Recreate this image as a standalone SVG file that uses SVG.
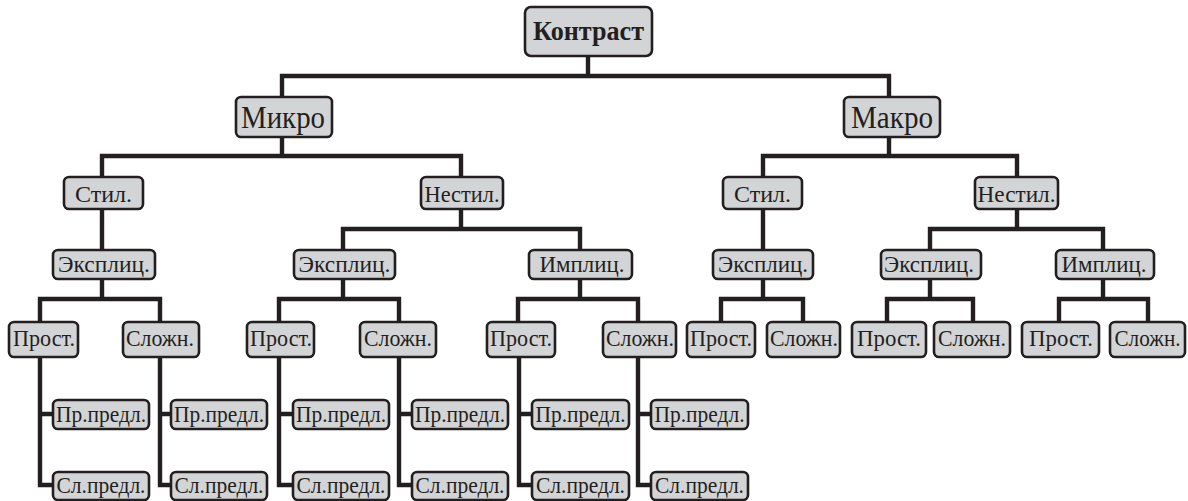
<svg xmlns="http://www.w3.org/2000/svg" width="1188" height="501" viewBox="0 0 1188 501">
<style>
.n rect{fill:#d3d4d6;stroke:#231f20;stroke-width:2.6}
.n text{font-family:"Liberation Serif",serif;fill:#231f20;text-anchor:middle}
.l1 text{font-size:31px}
.l2 text{font-size:24px}
.l5 text{font-size:24px}
#conn path{fill:none;stroke:#231f20;stroke-width:4.4;stroke-linejoin:miter;stroke-linecap:square}
</style>
<rect width="1188" height="501" fill="#fff"/>
<g id="conn">
<path d="M282,97 V76 H889 V97 M588,56 V76"/>
<path d="M102,177 V156 H461 V177 M282,137 V156"/>
<path d="M763,177 V156 H1017 V177 M889,137 V156"/>
<path d="M102,209 V250 M763,209 V250"/>
<path d="M343,250 V229 H580 V250 M461,209 V229"/>
<path d="M930,250 V229 H1103 V250 M1017,209 V229"/>
<path d="M40,322 V299 H160 V322 M102,279 V299"/>
<path d="M279,322 V299 H399 V322 M343,279 V299"/>
<path d="M518,322 V299 H638 V322 M580,279 V299"/>
<path d="M721,322 V299 H803 V322 M763,279 V299"/>
<path d="M887,322 V299 H973 V322 M930,279 V299"/>
<path d="M1059,322 V299 H1148 V322 M1103,279 V299"/>
<path d="M40,357 V485 H53 M40,414 H53"/>
<path d="M160,357 V485 H171 M160,414 H171"/>
<path d="M279,357 V485 H293 M279,414 H293"/>
<path d="M399,357 V485 H412 M399,414 H412"/>
<path d="M519,357 V485 H532 M519,414 H532"/>
<path d="M638,357 V485 H651 M638,414 H651"/>
</g>
<g id="root" class="n"><rect x="525" y="7" width="127" height="49" rx="6"/><text x="588.5" y="40" font-size="27" font-weight="bold" textLength="111" lengthAdjust="spacingAndGlyphs">Контраст</text></g>
<g id="micro" class="n l1"><rect x="236" y="97" width="96" height="40" rx="5"/><text x="283" y="128" textLength="84" lengthAdjust="spacingAndGlyphs">Микро</text></g>
<g id="macro" class="n l1"><rect x="844" y="97" width="96" height="40" rx="5"/><text x="892" y="128" textLength="82" lengthAdjust="spacingAndGlyphs">Макро</text></g>
<g id="mi-stil" class="n l2"><rect x="64" y="177" width="79" height="32" rx="5"/><text x="103.5" y="202" textLength="57" lengthAdjust="spacingAndGlyphs">Стил.</text></g>
<g id="mi-nestil" class="n l2"><rect x="421" y="177" width="82" height="32" rx="5"/><text x="462" y="202" textLength="75" lengthAdjust="spacingAndGlyphs">Нестил.</text></g>
<g id="ma-stil" class="n l2"><rect x="723" y="177" width="79" height="32" rx="5"/><text x="762.5" y="202" textLength="57" lengthAdjust="spacingAndGlyphs">Стил.</text></g>
<g id="ma-nestil" class="n l2"><rect x="975" y="177" width="83" height="32" rx="5"/><text x="1016.5" y="202" textLength="78" lengthAdjust="spacingAndGlyphs">Нестил.</text></g>
<g id="mi-s-expl" class="n l2"><rect x="53" y="250" width="102" height="29" rx="5"/><text x="104" y="272" textLength="92" lengthAdjust="spacingAndGlyphs">Эксплиц.</text></g>
<g id="mi-n-expl" class="n l2"><rect x="294" y="250" width="101" height="29" rx="5"/><text x="344.5" y="272" textLength="92" lengthAdjust="spacingAndGlyphs">Эксплиц.</text></g>
<g id="mi-n-impl" class="n l2"><rect x="529" y="250" width="103" height="29" rx="5"/><text x="582" y="272" textLength="85" lengthAdjust="spacingAndGlyphs">Имплиц.</text></g>
<g id="ma-s-expl" class="n l2"><rect x="713" y="250" width="100" height="29" rx="5"/><text x="763" y="272" textLength="90" lengthAdjust="spacingAndGlyphs">Эксплиц.</text></g>
<g id="ma-n-expl" class="n l2"><rect x="881" y="250" width="100" height="29" rx="5"/><text x="929" y="272" textLength="90" lengthAdjust="spacingAndGlyphs">Эксплиц.</text></g>
<g id="ma-n-impl" class="n l2"><rect x="1056" y="250" width="98" height="29" rx="5"/><text x="1104" y="272" textLength="85" lengthAdjust="spacingAndGlyphs">Имплиц.</text></g>
<g id="p1" class="n l5"><rect x="9" y="322" width="69" height="35" rx="5"/><text x="44" y="346" textLength="62" lengthAdjust="spacingAndGlyphs">Прост.</text></g>
<g id="c1" class="n l5"><rect x="123" y="322" width="76" height="35" rx="5"/><text x="160" y="346" textLength="68" lengthAdjust="spacingAndGlyphs">Сложн.</text></g>
<g id="p2" class="n l5"><rect x="247" y="322" width="67" height="35" rx="5"/><text x="281" y="346" textLength="62" lengthAdjust="spacingAndGlyphs">Прост.</text></g>
<g id="c2" class="n l5"><rect x="360" y="322" width="76" height="35" rx="5"/><text x="398" y="346" textLength="68" lengthAdjust="spacingAndGlyphs">Сложн.</text></g>
<g id="p3" class="n l5"><rect x="487" y="322" width="68" height="35" rx="5"/><text x="521" y="346" textLength="62" lengthAdjust="spacingAndGlyphs">Прост.</text></g>
<g id="c3" class="n l5"><rect x="603" y="322" width="73" height="35" rx="5"/><text x="640" y="346" textLength="68" lengthAdjust="spacingAndGlyphs">Сложн.</text></g>
<g id="p4" class="n l5"><rect x="687" y="322" width="68" height="35" rx="5"/><text x="721" y="346" textLength="62" lengthAdjust="spacingAndGlyphs">Прост.</text></g>
<g id="c4" class="n l5"><rect x="767" y="322" width="73" height="35" rx="5"/><text x="804" y="346" textLength="68" lengthAdjust="spacingAndGlyphs">Сложн.</text></g>
<g id="p5" class="n l5"><rect x="852" y="322" width="74" height="35" rx="5"/><text x="889" y="346" textLength="64" lengthAdjust="spacingAndGlyphs">Прост.</text></g>
<g id="c5" class="n l5"><rect x="934" y="322" width="76" height="35" rx="5"/><text x="972" y="346" textLength="68" lengthAdjust="spacingAndGlyphs">Сложн.</text></g>
<g id="p6" class="n l5"><rect x="1022" y="322" width="77" height="35" rx="5"/><text x="1061" y="346" textLength="64" lengthAdjust="spacingAndGlyphs">Прост.</text></g>
<g id="c6" class="n l5"><rect x="1110" y="322" width="75" height="35" rx="5"/><text x="1147.5" y="346" textLength="66" lengthAdjust="spacingAndGlyphs">Сложн.</text></g>
<g id="pp1" class="n l5"><rect x="53" y="400" width="96" height="29" rx="5"/><text x="101" y="422" textLength="90" lengthAdjust="spacingAndGlyphs">Пр.предл.</text></g>
<g id="sp1" class="n l5"><rect x="53" y="472" width="96" height="28" rx="5"/><text x="101" y="493" textLength="89" lengthAdjust="spacingAndGlyphs">Сл.предл.</text></g>
<g id="pp2" class="n l5"><rect x="171" y="400" width="96" height="29" rx="5"/><text x="219" y="422" textLength="90" lengthAdjust="spacingAndGlyphs">Пр.предл.</text></g>
<g id="sp2" class="n l5"><rect x="171" y="472" width="96" height="28" rx="5"/><text x="219" y="493" textLength="89" lengthAdjust="spacingAndGlyphs">Сл.предл.</text></g>
<g id="pp3" class="n l5"><rect x="293" y="400" width="96" height="29" rx="5"/><text x="341" y="422" textLength="90" lengthAdjust="spacingAndGlyphs">Пр.предл.</text></g>
<g id="sp3" class="n l5"><rect x="293" y="472" width="96" height="28" rx="5"/><text x="341" y="493" textLength="89" lengthAdjust="spacingAndGlyphs">Сл.предл.</text></g>
<g id="pp4" class="n l5"><rect x="412" y="400" width="96" height="29" rx="5"/><text x="460" y="422" textLength="90" lengthAdjust="spacingAndGlyphs">Пр.предл.</text></g>
<g id="sp4" class="n l5"><rect x="412" y="472" width="96" height="28" rx="5"/><text x="460" y="493" textLength="89" lengthAdjust="spacingAndGlyphs">Сл.предл.</text></g>
<g id="pp5" class="n l5"><rect x="532" y="400" width="97" height="29" rx="5"/><text x="580.5" y="422" textLength="90" lengthAdjust="spacingAndGlyphs">Пр.предл.</text></g>
<g id="sp5" class="n l5"><rect x="532" y="472" width="97" height="28" rx="5"/><text x="580.5" y="493" textLength="89" lengthAdjust="spacingAndGlyphs">Сл.предл.</text></g>
<g id="pp6" class="n l5"><rect x="651" y="400" width="97" height="29" rx="5"/><text x="699.5" y="422" textLength="90" lengthAdjust="spacingAndGlyphs">Пр.предл.</text></g>
<g id="sp6" class="n l5"><rect x="651" y="472" width="97" height="28" rx="5"/><text x="699.5" y="493" textLength="89" lengthAdjust="spacingAndGlyphs">Сл.предл.</text></g>
</svg>
